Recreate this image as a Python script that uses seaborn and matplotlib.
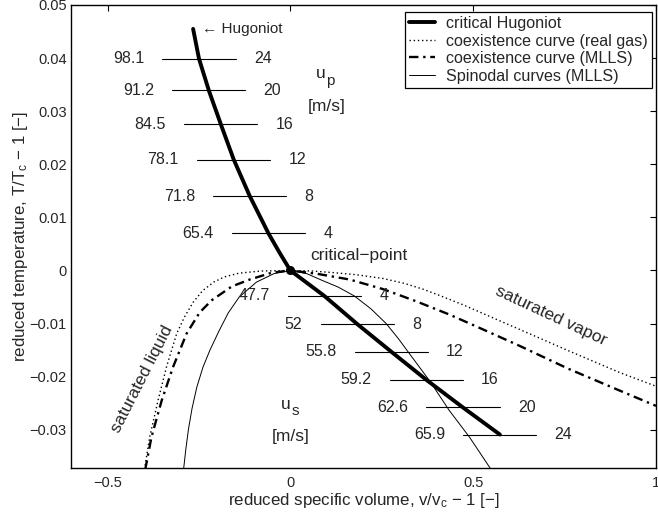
import numpy as np
import pandas as pd
import seaborn as sns
from matplotlib import pyplot as plt

# critical Hugoniot, upper branch (tip -> critical point)
hug_up_x = [-0.266, -0.250, -0.223, -0.190, -0.155, -0.111, -0.060, -0.030, 0.0]
hug_up_y = [0.0455, 0.0399, 0.0339, 0.0275, 0.0209, 0.0140, 0.0070, 0.0034, 0.0]
# lower branch (critical point -> end)
hug_lo_x = [0.0, 0.093, 0.183, 0.276, 0.372, 0.472, 0.573]
hug_lo_y = [0.0, -0.0048, -0.0101, -0.0153, -0.0206, -0.0258, -0.0309]

# state labels along the Hugoniot
up_us = ["98.1", "91.2", "84.5", "78.1", "71.8", "65.4"]
up_up = ["24", "20", "16", "12", "8", "4"]
lo_us = ["47.7", "52", "55.8", "59.2", "62.6", "65.9"]
lo_up = ["4", "8", "12", "16", "20", "24"]

# coexistence curve, real gas
coex_rg_x = [-0.399, -0.385, -0.362, -0.339, -0.311, -0.290, -0.266, -0.240, -0.210, -0.180, -0.140, -0.080, 0.0,
             0.060, 0.117, 0.180, 0.253, 0.310, 0.362, 0.408, 0.470, 0.550, 0.627, 0.760, 0.900, 1.0]
coex_rg_y = [-0.0375, -0.0314, -0.0245, -0.0182, -0.0119, -0.0088, -0.0060, -0.0038, -0.0022, -0.0012, -0.0005, -0.0001, 0.0,
             -0.0001, -0.0004, -0.0008, -0.0015, -0.0024, -0.0035, -0.0047, -0.0064, -0.0088, -0.0111, -0.0151, -0.0192, -0.0218]

# coexistence curve, MLLS
coex_ml_x = [-0.397, -0.380, -0.352, -0.321, -0.284, -0.248, -0.215, -0.160, -0.111, -0.050, 0.0,
             0.071, 0.162, 0.253, 0.344, 0.435, 0.530, 0.627, 0.760, 0.900, 1.0]
coex_ml_y = [-0.0375, -0.0314, -0.0245, -0.0182, -0.0119, -0.0079, -0.0056, -0.0030, -0.0017, -0.0004, 0.0,
             -0.0006, -0.0017, -0.0035, -0.0058, -0.0083, -0.0112, -0.0142, -0.0185, -0.0226, -0.0255]

# spinodal curves, MLLS
spin_x = [-0.293, -0.286, -0.279, -0.269, -0.256, -0.239, -0.220, -0.196, -0.170, -0.140, -0.093, -0.045, 0.0,
          0.045, 0.088, 0.130, 0.175, 0.220, 0.262, 0.295, 0.326, 0.381, 0.435, 0.490, 0.552]
spin_y = [-0.0380, -0.0337, -0.0300, -0.0260, -0.0220, -0.0182, -0.0150, -0.0115, -0.0080, -0.0050, -0.0022, -0.0006, 0.0,
          -0.0006, -0.0019, -0.0031, -0.0048, -0.0072, -0.0100, -0.0128, -0.0157, -0.0208, -0.0264, -0.0314, -0.0378]

xticks = [-0.5, 0, 0.5, 1]
xtick_labels = ["\u22120.5", "0", "0.5", "1"]
yticks = [-0.03, -0.02, -0.01, 0, 0.01, 0.02, 0.03, 0.04, 0.05]
ytick_labels = ["\u22120.03", "\u22120.02", "\u22120.01", "0", "0.01", "0.02", "0.03", "0.04", "0.05"]

sns.set_style("white")
plt.rcParams["font.family"] = ["Liberation Sans", "DejaVu Sans"]
plt.rcParams["mathtext.fontset"] = "custom"
plt.rcParams["mathtext.rm"] = "Liberation Sans"
plt.rcParams["mathtext.it"] = "Liberation Sans:italic"
plt.rcParams["axes.linewidth"] = 1.0

fig = plt.figure(figsize=(6.58, 5.18), dpi=100)
ax = fig.add_axes([71 / 658, 50 / 518, 585 / 658, 463 / 518])

hug = pd.DataFrame({"x": hug_up_x + hug_lo_x[1:], "y": hug_up_y + hug_lo_y[1:]})
sns.lineplot(data=hug, x="x", y="y", sort=False, estimator=None, color="k", lw=2.8,
             ax=ax, label="critical Hugoniot", zorder=5)
sns.lineplot(x=coex_rg_x, y=coex_rg_y, sort=False, estimator=None, color="k", lw=1.0,
             linestyle=(0, (1, 2)), ax=ax, label="coexistence curve (real gas)")
sns.lineplot(x=coex_ml_x, y=coex_ml_y, sort=False, estimator=None, color="k", lw=1.7,
             linestyle=(0, (4, 2, 1, 2)), ax=ax, label="coexistence curve (MLLS)")
sns.lineplot(x=spin_x, y=spin_y, sort=False, estimator=None, color="k", lw=0.7,
             ax=ax, label="Spinodal curves (MLLS)")
ax.plot([0], [0], "o", color="k", ms=5.5, zorder=6)

# horizontal state markers with labels
def states(xs, ys, left, right):
    for xc, yc, l, r in zip(xs, ys, left, right):
        ax.plot([xc - 0.1, xc + 0.1], [yc, yc], color="k", lw=0.8)
        ax.text(xc - 0.15, yc, l, ha="right", va="center", fontsize=11.5)
        ax.text(xc + 0.15, yc, r, ha="left", va="center", fontsize=11.5)

states(hug_up_x[1:7], hug_up_y[1:7], up_us, up_up)
states(hug_lo_x[1:], hug_lo_y[1:], lo_us, lo_up)

# velocity symbols with large, low subscripts
def vel(x, y, sub):
    ax.text(x, y, "u", ha="right", va="baseline", fontsize=12.5)
    ax.annotate(sub, (x, y), xytext=(0.5, -4.5), textcoords="offset points",
                ha="left", va="baseline", fontsize=11)

ax.text(hug_up_x[0] + 0.023, hug_up_y[0], "\u2190 Hugoniot", ha="left", va="center", fontsize=11)
ax.text(0.053, 0.0028, "critical\u2212point", ha="left", va="center", fontsize=12.5)
vel(0.097, 0.0362, "p")
ax.text(0.100, 0.0308, "[m/s]", ha="center", va="center", fontsize=12.5)
vel(0.002, -0.0261, "s")
ax.text(0.000, -0.0313, "[m/s]", ha="center", va="center", fontsize=12.5)
ax.text(0.713, -0.0085, "saturated vapor", rotation=-25, rotation_mode="anchor",
        ha="center", va="center", fontsize=12.5)
ax.text(-0.405, -0.0204, "saturated liquid", rotation=63, rotation_mode="anchor",
        ha="center", va="center", fontsize=12.5)

ax.set_xlim(-0.6, 1.0)
ax.set_ylim(-0.0372, 0.05)
ax.set_xticks(xticks, xtick_labels)
ax.set_yticks(yticks, ytick_labels)
ax.tick_params(direction="in", top=True, right=True, length=4, width=0.8,
               labelsize=10.5, color="k")
ax.tick_params(axis="x", pad=6)
ax.tick_params(axis="y", pad=3)
for s in ax.spines.values():
    s.set_color("k")
ax.set_xlabel("reduced specific volume, v/v$_\\mathrm{c}$ \u2212 1 [\u2212]", fontsize=12.2)
ax.set_ylabel("reduced temperature, T/T$_\\mathrm{c}$ \u2212 1 [\u2212]", fontsize=12.2)
ax.xaxis.set_label_coords(0.5, -0.05)
ax.yaxis.set_label_coords(-0.07, 0.5)

leg = ax.legend(loc="upper right", bbox_to_anchor=(0.9926, 0.985), borderaxespad=0,
                fontsize=11.6, frameon=True, fancybox=False, edgecolor="k",
                framealpha=1, labelspacing=0.16, handlelength=1.6, handletextpad=0.7,
                borderpad=0.25)
leg.get_frame().set_linewidth(0.9)

plt.savefig("out.png", dpi=100)
